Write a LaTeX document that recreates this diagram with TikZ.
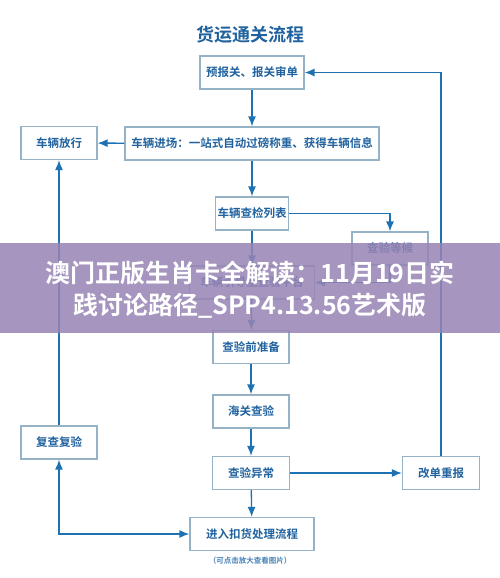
\documentclass[tikz,border=0pt]{standalone}
\usepackage{fontspec}
\setmainfont{Noto Sans CJK SC}[BoldFont={Noto Sans CJK SC Bold}]
\usepackage{xcolor}
\usepackage{tikz}
\usetikzlibrary{calc, arrows.meta, positioning}

\definecolor{lineblue}{RGB}{28,114,178}
\definecolor{textblue}{RGB}{32,98,158}
\definecolor{boxline}{RGB}{150,178,198}
\definecolor{capblue}{RGB}{70,130,185}
\definecolor{bannerpurple}{RGB}{150,132,180}

\begin{document}
\begin{tikzpicture}[x=1pt, y=-1pt,
    >={Latex[length=10pt, width=8pt]},
    flowbox/.style={draw=boxline, line width=1.2pt, minimum height=33pt,
        inner sep=2pt, text=textblue,
        font=\bfseries\fontsize{11.5}{13}\selectfont},
    conn/.style={draw=lineblue, line width=1.3pt}]
    \useasboundingbox (0,0) rectangle (500,578);

    % Tiêu đề
    \node[text=textblue, font=\bfseries\fontsize{18}{20}\selectfont] (title) at (250,35) {货运通关流程};

    % Các khối
    \node[flowbox, minimum width=104pt] (yb) at (252,72.5) {预报关、报关审单};
    \node[flowbox, minimum width=76pt] (fx) at (59,143) {车辆放行};
    \node[flowbox, minimum width=254pt] (jc) at (252,143.5) {车辆进场：一站式自动过磅称重、获得车辆信息};
    \node[flowbox, minimum width=73pt] (lb) at (252,213.5) {车辆查检列表};
    \node[flowbox, minimum width=76pt] (dh) at (390,248.5) {查验等候};
    \node[flowbox, minimum width=125pt] (yd) at (252,282.5) {车辆引导至查验平台};
    \node[flowbox, minimum width=76pt] (zb) at (251,347) {查验前准备};
    \node[flowbox, minimum width=76pt] (hg) at (251,411.5) {海关查验};
    \node[flowbox, minimum width=77pt] (yc) at (251,473) {查验异常};
    \node[flowbox, minimum width=124pt] (kh) at (252,534) {进入扣货处理流程};
    \node[flowbox, minimum width=77pt] (gd) at (441,473) {改单重报};
    \node[flowbox, minimum width=76pt] (fc) at (59,442.5) {复查复验};
    \node[text=capblue, font=\bfseries\fontsize{7.5}{9}\selectfont] (cap) at (250,561) {（可点击放大查看图片）};

    % Mũi tên
    \draw[conn, ->] (yb) -- (jc);
    \draw[conn, ->] (jc) -- (fx);
    \draw[conn, ->] (jc) -- (lb);
    \draw[conn, ->] (lb) -- (yd);
    \draw[conn, ->] (lb.east) -| (dh.north);
    \draw[conn, ->] (dh.south) |- (yd.east);
    \draw[conn, ->] (yd) -- (zb);
    \draw[conn, ->] (zb) -- (hg);
    \draw[conn, ->] (hg) -- (yc);
    \draw[conn, ->] (yc) -- (kh);
    \draw[conn, ->] (yc) -- (gd);
    \draw[conn, ->] (gd.north) |- (yb.east);
    \draw[conn, ->] (fc) -- (fx);
    \draw[conn, <->] (fc.south) |- (kh.west);

    % Dải chữ phía trên
    \fill[bannerpurple, fill opacity=0.86] (0,243) rectangle (500,333);
    \node[text=white, align=center, font=\bfseries\fontsize{25}{32}\selectfont] (banner) at (250,290)
        {澳门正版生肖卡全解读：11月19日实\\践讨论路径\_SPP4.13.56艺术版};
\end{tikzpicture}
\end{document}
